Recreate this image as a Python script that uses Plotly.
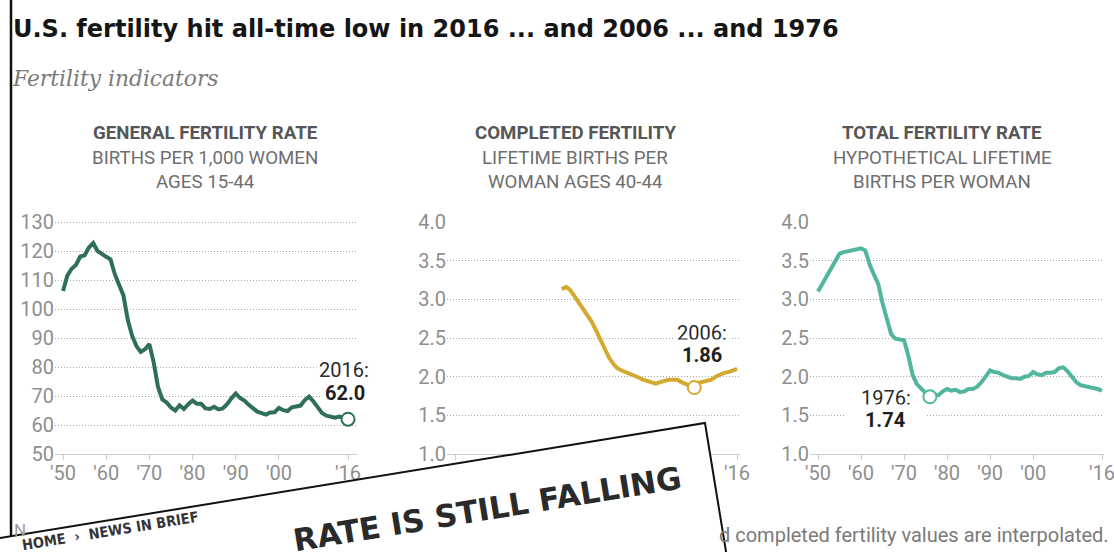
import plotly.graph_objects as go

# ---------------- data ----------------
years_gfr = list(range(1950, 2017))
gfr = [106.2, 111.5, 113.9, 115.2, 118.1, 118.5, 121.2, 122.7, 120.0, 118.8,
       118.0, 117.1, 112.0, 108.3, 104.7, 96.3, 90.8, 87.2, 85.2, 86.1,
       87.9, 81.6, 73.1, 68.8, 67.8, 66.0, 65.0, 66.8, 65.5, 67.2,
       68.4, 67.3, 67.3, 65.7, 65.5, 66.3, 65.4, 65.7, 67.2, 69.2,
       70.9, 69.3, 68.4, 67.0, 65.9, 64.6, 64.1, 63.6, 64.3, 64.4,
       65.9, 65.1, 64.8, 66.1, 66.4, 66.7, 68.6, 69.8, 68.1, 66.2,
       64.1, 63.2, 63.0, 62.5, 62.9, 62.5, 62.0]

years_cf = list(range(1975, 2017))
completed = [3.13, 3.16, 3.12, 3.04, 2.96, 2.87, 2.80, 2.71, 2.60, 2.48,
             2.36, 2.25, 2.17, 2.11, 2.08, 2.06, 2.04, 2.02, 1.99, 1.96,
             1.94, 1.92, 1.91, 1.93, 1.95, 1.96, 1.96, 1.96, 1.93, 1.91,
             1.89, 1.86, 1.92, 1.93, 1.95, 1.96, 2.00, 2.03, 2.05, 2.06,
             2.08, 2.10]

years_tfr = list(range(1950, 2017))
tfr = [3.10, 3.20, 3.30, 3.40, 3.50, 3.59, 3.61, 3.62, 3.63, 3.65,
       3.66, 3.63, 3.45, 3.32, 3.20, 2.95, 2.75, 2.55, 2.49, 2.48,
       2.47, 2.27, 2.02, 1.90, 1.84, 1.79, 1.74, 1.77, 1.76, 1.81,
       1.84, 1.82, 1.83, 1.80, 1.81, 1.84, 1.84, 1.87, 1.93, 2.01,
       2.08, 2.06, 2.05, 2.02, 2.00, 1.98, 1.98, 1.97, 2.00, 2.01,
       2.06, 2.03, 2.02, 2.05, 2.05, 2.06, 2.11, 2.12, 2.07, 2.00,
       1.93, 1.89, 1.88, 1.86, 1.86, 1.84, 1.82]

tick_years = [1950, 1960, 1970, 1980, 1990, 2000, 2016]
tick_labels = ["'50", "'60", "'70", "'80", "'90", "'00", "'16"]
gfr_ticks = [50, 60, 70, 80, 90, 100, 110, 120, 130]
rate_ticks = [1.0, 1.5, 2.0, 2.5, 3.0, 3.5, 4.0]
rate_tick_text = ["1.0", "1.5", "2.0", "2.5", "3.0", "3.5", "4.0"]

highlight_year = [2016, 2006, 1976]
panel_headers = [
    ["GENERAL FERTILITY RATE", "BIRTHS PER 1,000 WOMEN", "AGES 15-44"],
    ["COMPLETED FERTILITY", "LIFETIME BIRTHS PER", "WOMAN AGES 40-44"],
    ["TOTAL FERTILITY RATE", "HYPOTHETICAL LIFETIME", "BIRTHS PER WOMAN"],
]
colors = ["#2f6e5b", "#d4a92f", "#52b69e"]

# ---------------- layout helpers ----------------
W, H = 1114, 552
def px(x):
    return x / W
def py(y):
    return 1 - y / H

FONT = "Roboto, Liberation Sans, Arial, sans-serif"
TICKGRAY = "#8e8e8e"

# pixel geometry per panel: (grid left, grid right, px of 1950, px of 2016)
geo = [(55, 357, 63, 348), (447, 740, 455, 737), (810, 1104, 818, 1102)]
y_bottom_px, y_top_px = 454, 222

fig = go.Figure()

series = [(years_gfr, gfr), (years_cf, completed), (years_tfr, tfr)]
for i, (xs, ys) in enumerate(series):
    ax = "" if i == 0 else str(i + 1)
    fig.add_trace(go.Scatter(x=xs, y=ys, mode="lines",
                             line=dict(color=colors[i], width=4),
                             xaxis="x" + ax, yaxis="y" + ax,
                             hoverinfo="skip", showlegend=False))
    hy = highlight_year[i]
    hv = ys[xs.index(hy)]
    fig.add_trace(go.Scatter(x=[hy], y=[hv], mode="markers",
                             marker=dict(symbol="circle", size=13, color="white",
                                         line=dict(color=colors[i], width=2)),
                             xaxis="x" + ax, yaxis="y" + ax,
                             hoverinfo="skip", showlegend=False))

layout = dict(width=W, height=H,
              margin=dict(l=0, r=0, t=0, b=0, pad=0, autoexpand=False),
              paper_bgcolor="white", plot_bgcolor="white", showlegend=False)

for i, (gl, gr, a, b) in enumerate(geo):
    k = (b - a) / 66.0
    r0 = 1950 - (a - gl) / k
    r1 = 2016 + (gr - b) / k
    key = "" if i == 0 else str(i + 1)
    layout["xaxis" + key] = dict(
        domain=[px(gl), px(gr)], range=[r0, r1],
        tickvals=tick_years, ticktext=tick_labels,
        tickfont=dict(family=FONT, size=20, color=TICKGRAY),
        ticks="outside", ticklen=5, tickcolor="#cccccc", tickwidth=1,
        ticklabelstandoff=-4, ticklabeloverflow="allow",
        showline=True, linecolor="#cccccc", linewidth=1,
        showgrid=False, zeroline=False, fixedrange=True, automargin=False,
        anchor="y" + key)
    if i == 0:
        yr = [50, 130.4]
        tv, tt = gfr_ticks, [str(v) for v in gfr_ticks]
        top = y_top_px - 0.4 * (y_bottom_px - y_top_px) / 80
    else:
        yr = [1.0, 4.012]
        tv, tt = rate_ticks, rate_tick_text
        top = y_top_px - 0.012 * (y_bottom_px - y_top_px) / 3
    layout["yaxis" + key] = dict(
        domain=[py(y_bottom_px), py(top)], range=yr,
        tickvals=tv, ticktext=tt,
        tickfont=dict(family=FONT, size=20, color=TICKGRAY),
        showgrid=True, gridcolor="#a8a8a8", gridwidth=1, griddash="1px,2px",
        zeroline=False, showline=False, ticks="", fixedrange=True, automargin=False,
        anchor="x" + key)

fig.update_layout(**layout)

ann = []
def add_text(text, x, y, xanchor="center", yanchor="middle", **kw):
    d = dict(text=text, x=px(x), y=py(y), xref="paper", yref="paper",
             xanchor=xanchor, yanchor=yanchor, showarrow=False)
    d.update(kw)
    ann.append(d)

# title and subtitle
add_text("<b>U.S. fertility hit all-time low in 2016 ... and 2006 ... and 1976</b>", 11, 29,
         xanchor="left", font=dict(family="DejaVu Sans, sans-serif", size=24, color="#151515"))
add_text("<i>Fertility indicators</i>", 10, 79, xanchor="left",
         font=dict(family="DejaVu Serif, Georgia, serif", size=21.8, color="#7a7a7a"))

centers = [205, 575, 942]
for i, lines in enumerate(panel_headers):
    for j, t in enumerate(lines):
        add_text(("<b>%s</b>" % t) if j == 0 else t, centers[i], 133 + 24.5 * j,
                 font=dict(family=FONT, size=18.7, color="#565656" if j == 0 else "#6e6e6e"))

# value callouts
callouts = [((344, 370), (345, 393)), ((702, 333), (702, 355)), ((886, 398), (885, 420))]
for i, ((x1, y1), (x2, y2)) in enumerate(callouts):
    xs, ys = series[i]
    hy = highlight_year[i]
    hv = ys[xs.index(hy)]
    val = ("%.1f" % hv) if i == 0 else ("%.2f" % hv)
    add_text("%d:" % hy, x1, y1, bgcolor="white", borderpad=2,
             font=dict(family=FONT, size=20, color="#2a2a2a"))
    extra = dict(width=74) if i == 2 else {}
    add_text("<b>%s</b>" % val, x2, y2, bgcolor="white", borderpad=3,
             font=dict(family=FONT, size=20, color="#1f1f1f"), **extra)

# footnote fragments visible around the clipping
add_text("d completed fertility values are interpolated.", 1111, 535, xanchor="right",
         font=dict(family=FONT, size=20, color="#7a7a7a"))
add_text("N", 12, 530, xanchor="left", font=dict(family=FONT, size=17, color="#9a9a9a"))

# newspaper clipping texts
ang = -9.26
add_text("<b>HOME  \u203a  NEWS IN BRIEF</b>", 110, 531, textangle=ang,
         font=dict(family="DejaVu Sans Condensed, DejaVu Sans, sans-serif", size=14.5, color="#333333"))
add_text("<b>RATE IS STILL FALLING</b>", 487, 509, textangle=ang,
         font=dict(family="DejaVu Sans, sans-serif", size=31, color="#2a2a2a"))
fig.update_layout(annotations=ann)

# left border of the screenshot and the clipping paper
shapes = []
shapes.append(dict(type="line", xref="paper", yref="paper",
                   x0=px(11), x1=px(11), y0=py(-5), y1=py(560),
                   line=dict(color="#111111", width=2.5), layer="above"))
pts = [(-150, 562.5), (705, 423), (754, 723), (-150, 723)]
path = "M " + " L ".join("%.5f,%.5f" % (px(x), py(y)) for x, y in pts) + " Z"
shapes.append(dict(type="path", xref="paper", yref="paper", path=path,
                   fillcolor="white", line=dict(color="#111111", width=2), layer="above"))
fig.update_layout(shapes=shapes)

fig.write_html("out.html", config={"displayModeBar": False},
               post_script="document.body.style.margin='0px';document.body.style.overflow='hidden';")
